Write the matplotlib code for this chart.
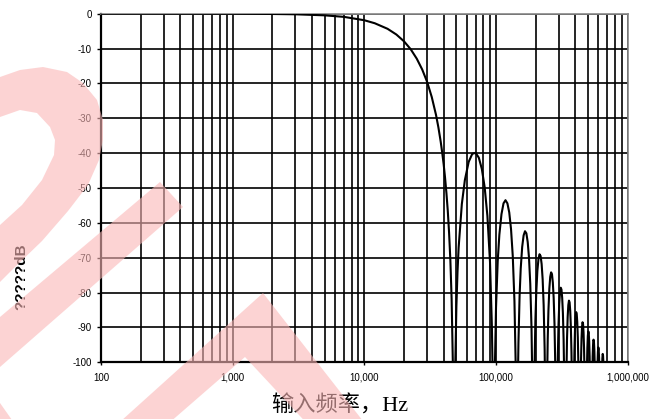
import numpy as np
import matplotlib
matplotlib.use('Agg')
import matplotlib.pyplot as plt
from matplotlib.patches import Polygon
from matplotlib.ticker import FixedLocator, FuncFormatter, NullLocator

plt.rcParams['font.family'] = ['Liberation Sans', 'DejaVu Sans']
plt.rcParams['axes.unicode_minus'] = False

# 频率 (kHz) / 幅度 (dB)
main_khz = [0.1, 1, 2, 3, 5, 7, 10, 12, 15, 17.5, 20, 22.5, 25, 27.5, 30, 32.5, 35,
            36.5, 38, 39, 40, 41, 42, 43, 44, 45, 46, 47, 48]
main_db = [0, -0.02, -0.08, -0.17, -0.47, -0.91, -1.88, -2.74, -4.33, -5.97, -7.92,
           -10.2, -12.9, -16.0, -19.6, -23.9, -29.0, -32.6, -36.7, -39.8, -43.1, -47.0,
           -51.4, -56.5, -62.8, -70.7, -81.8, -100.3, -125]

lobe1_khz = [49, 50, 51, 52, 55, 58, 62, 66, 70, 74, 78, 82, 86, 90, 93, 94, 96]
lobe1_db = [-101.4, -83.9, -74.0, -67.1, -54.6, -47.7, -42.5, -40.2, -39.9, -41.3,
            -44.5, -49.8, -58.0, -71.2, -89.6, -100.4, -125]

lobe2_khz = [98, 100, 103, 106, 110, 114, 118, 122, 126, 130, 134, 138, 141, 144]
lobe2_db = [-101.5, -84.2, -71.0, -63.4, -57.5, -54.4, -53.5, -54.4, -57.0, -61.8,
            -69.5, -82.4, -100.5, -125]

lobe3_khz = [148, 151, 154, 158, 162, 166, 170, 174, 178, 182, 186, 189, 192]
lobe3_db = [-94.4, -80.9, -73.1, -66.9, -63.6, -62.4, -63.0, -65.5, -70.0, -77.5,
            -90.2, -108.1, -125]

lobe4_khz = [196, 199, 202, 206, 210, 214, 218, 222, 226, 230, 234, 237, 240]
lobe4_db = [-101.7, -88.1, -80.2, -73.8, -70.4, -69.0, -69.5, -71.8, -76.2, -83.6,
            -96.2, -114, -125]

lobe5_khz = [244, 247, 250, 254, 258, 262, 266, 270, 274, 278, 282, 288]
lobe5_db = [-106.7, -93.2, -85.2, -78.9, -75.5, -74.2, -74.7, -77.1, -81.5, -89.0,
            -101.6, -125]

lobe6_khz = [292, 295, 298, 302, 306, 310, 314, 318, 322, 326, 330, 336]
lobe6_db = [-111.1, -97.6, -89.6, -83.3, -79.9, -78.6, -79.1, -81.5, -85.9, -93.4,
            -106.0, -125]

lobe7_khz = [343, 346, 350, 354, 358, 362, 366, 370, 374, 378, 384]
lobe7_db = [-101.3, -93.3, -87.0, -83.6, -82.3, -82.8, -85.2, -89.6, -97.1, -109.7, -125]

lobe8_khz = [391, 394, 398, 402, 406, 410, 414, 418, 422, 432]
lobe8_db = [-104.6, -96.6, -90.3, -86.9, -85.6, -86.1, -88.5, -92.9, -100.4, -125]

lobe9_khz = [439, 442, 446, 450, 454, 458, 462, 466, 470, 480]
lobe9_db = [-107.5, -99.5, -93.2, -89.8, -88.5, -89.0, -91.4, -95.8, -103.3, -125]

lobe10_khz = [490, 494, 498, 502, 506, 510, 514, 518, 528]
lobe10_db = [-102.1, -95.8, -92.4, -91.1, -91.6, -94.0, -98.4, -105.9, -125]

lobe11_khz = [538, 542, 546, 550, 554, 558, 562, 576]
lobe11_db = [-104.5, -98.2, -94.8, -93.5, -94.0, -96.4, -100.8, -125]

lobe12_khz = [590, 594, 598, 602, 606, 610, 624]
lobe12_db = [-100.4, -97.0, -95.7, -96.2, -98.6, -103.0, -125]

lobe13_khz = [642, 646, 650, 654, 672]
lobe13_db = [-98.9, -97.6, -98.1, -100.5, -125]

y_ticks = [0, -10, -20, -30, -40, -50, -60, -70, -80, -90, -100]
x_major = [100, 1000, 10000, 100000, 1000000]
y_label = '?????dB'
x_label = '输入频率，Hz'

freq_khz = np.concatenate([main_khz, lobe1_khz, lobe2_khz, lobe3_khz, lobe4_khz,
                           lobe5_khz, lobe6_khz, lobe7_khz, lobe8_khz, lobe9_khz,
                           lobe10_khz, lobe11_khz, lobe12_khz, lobe13_khz])
gain_db = np.concatenate([main_db, lobe1_db, lobe2_db, lobe3_db, lobe4_db,
                          lobe5_db, lobe6_db, lobe7_db, lobe8_db, lobe9_db,
                          lobe10_db, lobe11_db, lobe12_db, lobe13_db])

W, H = 660, 419
fig = plt.figure(figsize=(W / 100, H / 100), dpi=100)
ax = fig.add_axes([101 / W, 1 - 362.3 / H, 526.7 / W, 348.6 / H])

ax.plot(freq_khz * 1000, gain_db, color='black', lw=1.5, zorder=3)

ax.set_xscale('log')
ax.set_xlim(100, 1000000)
ax.set_ylim(-100, 0)

ax.xaxis.set_major_locator(FixedLocator(x_major))
ax.xaxis.set_minor_locator(FixedLocator([m * d for d in x_major[:-1] for m in range(2, 10)]))
ax.xaxis.set_major_formatter(FuncFormatter(lambda v, p: f'{v:,.0f}'))
ax.yaxis.set_major_locator(FixedLocator(y_ticks))
ax.yaxis.set_minor_locator(NullLocator())
ax.yaxis.set_major_formatter(FuncFormatter(lambda v, p: f'{v:.0f}'))

ax.grid(True, which='both', axis='x', color='black', lw=1.2)
ax.grid(True, which='major', axis='y', color='black', lw=1.2)
ax.set_axisbelow(True)

ax.tick_params(axis='x', which='major', direction='out', length=2.5, width=1, pad=5, labelsize=7)
ax.tick_params(axis='x', which='minor', length=0)
ax.tick_params(axis='y', direction='out', length=3, width=1, pad=3.5, labelsize=7)

for s in ['left', 'bottom']:
    ax.spines[s].set_color('black')
    ax.spines[s].set_linewidth(1.6)
for s in ['top', 'right']:
    ax.spines[s].set_color('#888888')
    ax.spines[s].set_linewidth(1.2)

fig.text(21.5 / W, 1 - 277 / H, y_label, rotation=90, fontsize=11, fontweight='bold',
         ha='center', va='center')
fig.text(340 / W, 1 - 406 / H, x_label, fontsize=16, ha='center', va='center',
         family=['Liberation Serif', 'Noto Sans CJK SC'], fontweight='light')

# 水印（淡红色）
arc_outer = [(0, 77), (20, 70), (43, 67), (67, 72), (83, 83), (97, 100), (103, 120),
             (103, 140), (99, 160), (88, 185), (68, 211), (42, 241), (14, 268), (0, 282)]
arc_inner = [(0, 225), (22, 205), (42, 180), (54, 155), (55, 140), (50, 127),
             (37, 113), (20, 110), (0, 117)]
stripe = [(160, 182), (183, 207), (0, 367), (0, 317)]
chevron = [(111, 430), (263, 293), (370, 430), (313, 430), (245, 357), (161, 430)]
corner = [(0, 403), (12, 420), (0, 420)]

for shape in [arc_outer + arc_inner, stripe, chevron, corner]:
    pts = [(x / W, 1 - y / H) for x, y in shape]
    fig.patches.append(Polygon(pts, closed=True, transform=fig.transFigure,
                               facecolor=(250 / 255, 183 / 255, 183 / 255), alpha=0.6,
                               edgecolor='none', zorder=10))

fig.savefig('out.png', dpi=100)
